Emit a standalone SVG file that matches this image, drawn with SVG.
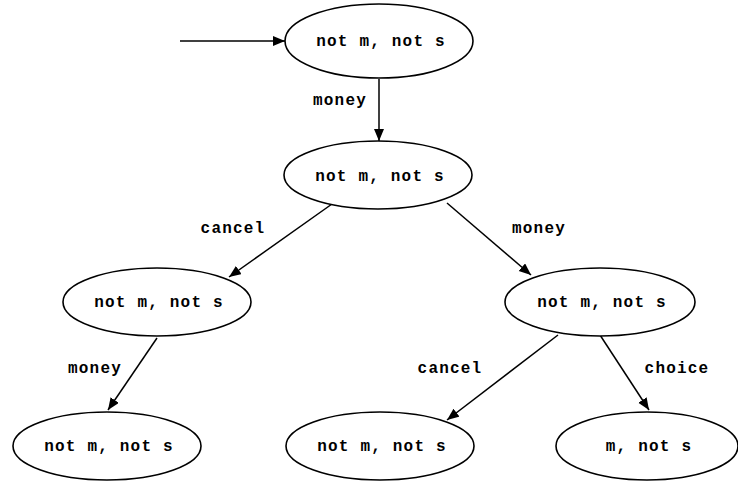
<svg xmlns="http://www.w3.org/2000/svg" width="738" height="481" viewBox="0 0 738 481">
<style>
.n ellipse{fill:#fff;stroke:#000;stroke-width:1.6}
text{font-family:"Liberation Mono","Courier New",monospace;font-weight:bold;font-size:16px;letter-spacing:1.2px;fill:#000;text-anchor:middle}
.e line{stroke:#000;stroke-width:1.5}
</style>
<defs>
<marker id="ah" markerUnits="userSpaceOnUse" markerWidth="14" markerHeight="12" refX="12" refY="5" orient="auto">
<path d="M0,0 L12,5 L0,10 Z" fill="#000"/>
</marker>
</defs>
<rect width="738" height="481" fill="#fff"/>
<g class="e">
<line x1="180" y1="41" x2="285" y2="41" marker-end="url(#ah)"/>
<line x1="379" y1="79" x2="379" y2="141" marker-end="url(#ah)"/>
<line x1="332" y1="204" x2="229" y2="277" marker-end="url(#ah)"/>
<line x1="447" y1="203" x2="531" y2="275" marker-end="url(#ah)"/>
<line x1="157" y1="338" x2="108" y2="410" marker-end="url(#ah)"/>
<line x1="558" y1="335" x2="447" y2="420" marker-end="url(#ah)"/>
<line x1="600" y1="335" x2="649" y2="410" marker-end="url(#ah)"/>
<text x="340" y="105">money</text>
<text x="233" y="233">cancel</text>
<text x="539" y="233">money</text>
<text x="95" y="373">money</text>
<text x="450" y="373">cancel</text>
<text x="677" y="373">choice</text>
</g>
<g id="n1" class="n"><ellipse cx="379" cy="41" rx="94" ry="37"/><text x="381" y="46">not m, not s</text></g>
<g id="n2" class="n"><ellipse cx="378" cy="175" rx="94" ry="34"/><text x="380" y="181">not m, not s</text></g>
<g id="n3" class="n"><ellipse cx="157" cy="302" rx="94" ry="34"/><text x="159" y="307">not m, not s</text></g>
<g id="n4" class="n"><ellipse cx="107" cy="446" rx="94" ry="34"/><text x="109" y="451">not m, not s</text></g>
<g id="n5" class="n"><ellipse cx="600" cy="302" rx="95" ry="34"/><text x="602" y="307">not m, not s</text></g>
<g id="n6" class="n"><ellipse cx="380" cy="446" rx="94" ry="34"/><text x="382" y="451">not m, not s</text></g>
<g id="n7" class="n"><ellipse cx="647" cy="446" rx="91" ry="34"/><text x="649" y="451">m, not s</text></g>
</svg>
